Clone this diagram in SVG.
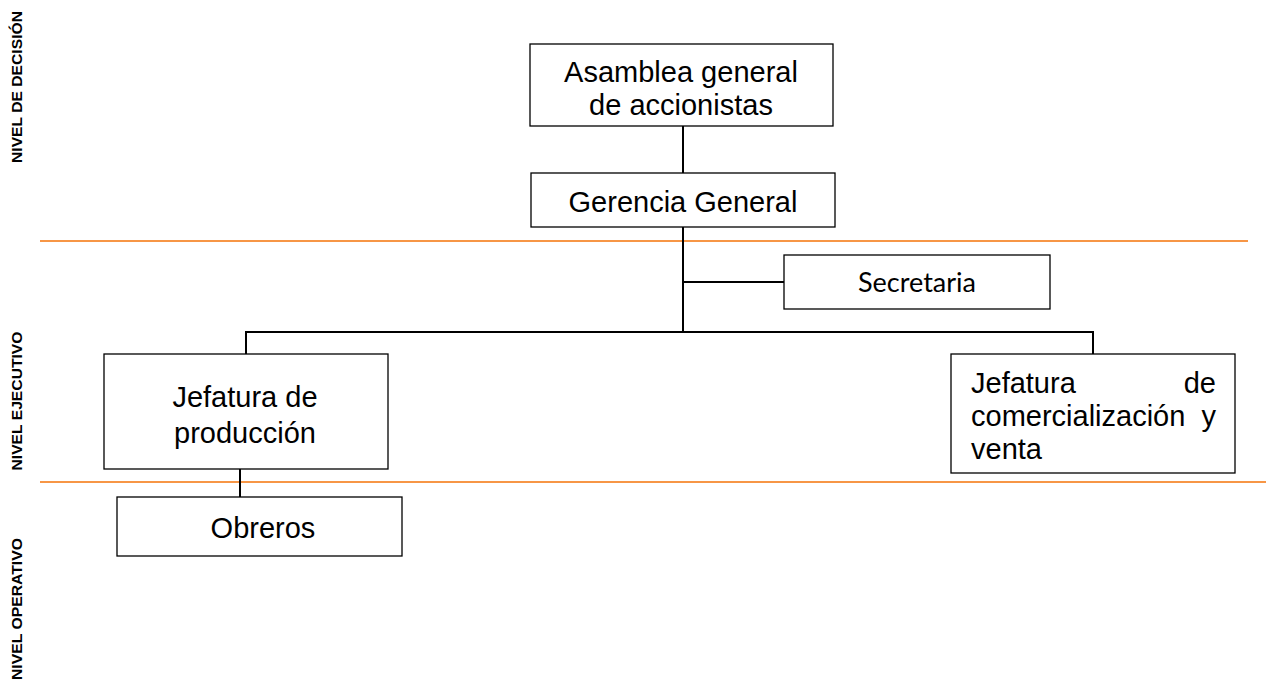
<svg xmlns="http://www.w3.org/2000/svg" width="1281" height="683" viewBox="0 0 1281 683">
  <style>
    .box { fill: #ffffff; stroke: #000000; stroke-width: 1.3; }
    .conn { fill: none; stroke: #000000; stroke-width: 2; }
    .band { stroke: #f79646; stroke-width: 2; }
    .lbl { font-family: "Liberation Sans", Arial, sans-serif; font-size: 29px; fill: #000000; }
    .mid { text-anchor: middle; }
    .sec { font-family: Lato, "Open Sans", sans-serif; font-size: 26px; fill: #000000; text-anchor: middle; }
    .lvl { font-family: "Liberation Sans", Arial, sans-serif; font-size: 15px; font-weight: bold; fill: #000000; text-anchor: middle; }
  </style>

  <rect width="1281" height="683" fill="#ffffff"/>

  <!-- level separators -->
  <g id="levels">
    <line class="band" x1="40" y1="241" x2="1248" y2="241"/>
    <line class="band" x1="40" y1="482" x2="1266" y2="482"/>
    <text class="lvl" transform="translate(22,87) rotate(-90)" textLength="152" lengthAdjust="spacingAndGlyphs">NIVEL  DE  DECISIÓN</text>
    <text class="lvl" transform="translate(22,401) rotate(-90)" textLength="139" lengthAdjust="spacingAndGlyphs">NIVEL EJECUTIVO</text>
    <text class="lvl" transform="translate(22,609) rotate(-90)" textLength="142" lengthAdjust="spacingAndGlyphs">NIVEL OPERATIVO</text>
  </g>

  <!-- connectors -->
  <g id="connectors">
    <line class="conn" x1="683" y1="126" x2="683" y2="173"/>
    <line class="conn" x1="683" y1="227" x2="683" y2="332"/>
    <line class="conn" x1="683" y1="282" x2="784" y2="282"/>
    <polyline class="conn" points="246,354 246,332 1093,332 1093,354"/>
    <line class="conn" x1="240" y1="469" x2="240" y2="497"/>
  </g>

  <g id="asamblea">
    <rect class="box" x="530" y="44" width="303" height="82"/>
    <text class="lbl mid" x="681" y="82">Asamblea general</text>
    <text class="lbl mid" x="681" y="115">de accionistas</text>
  </g>

  <g id="gerencia">
    <rect class="box" x="531" y="173" width="304" height="54"/>
    <text class="lbl mid" x="683" y="212">Gerencia General</text>
  </g>

  <g id="secretaria">
    <rect class="box" x="784" y="255" width="266" height="54"/>
    <text class="sec" x="917" y="292" textLength="118" lengthAdjust="spacingAndGlyphs">Secretaria</text>
  </g>

  <g id="produccion">
    <rect class="box" x="104" y="354" width="284" height="115"/>
    <text class="lbl mid" x="245" y="407">Jefatura de</text>
    <text class="lbl mid" x="245" y="443">producción</text>
  </g>

  <g id="comercializacion">
    <rect class="box" x="951" y="354" width="284" height="119"/>
    <text class="lbl" x="971" y="393">Jefatura</text>
    <text class="lbl" x="1216" y="393" text-anchor="end">de</text>
    <text class="lbl" x="971" y="426">comercialización</text>
    <text class="lbl" x="1216" y="426" text-anchor="end">y</text>
    <text class="lbl" x="971" y="459">venta</text>
  </g>

  <g id="obreros">
    <rect class="box" x="117" y="497" width="285" height="59"/>
    <text class="lbl mid" x="263" y="538">Obreros</text>
  </g>
</svg>
